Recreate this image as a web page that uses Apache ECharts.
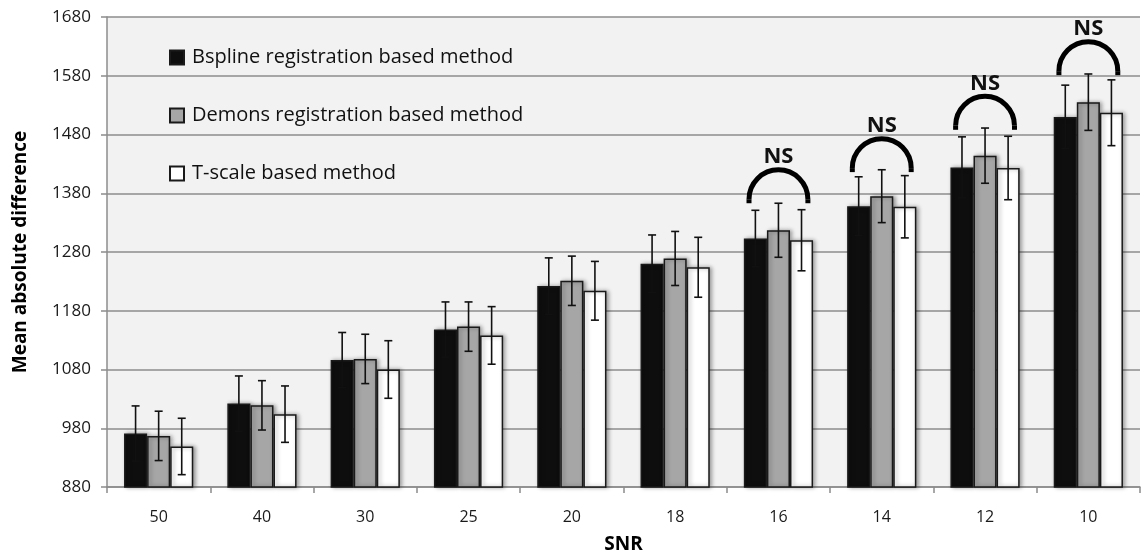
<!DOCTYPE html>
<html>
<head>
<meta charset="utf-8">
<script src="https://cdn.jsdelivr.net/npm/echarts@6/dist/echarts.min.js"></script>
<style>
	html, body { margin: 0; padding: 0; background: #fff; }
	#chart { width: 1143px; height: 557px; }
</style>
</head>
<body>
<div id="chart"></div>
<script>
const categories = ["50", "40", "30", "25", "20", "18", "16", "14", "12", "10"];
const yTicks = { min: 880, max: 1680, step: 100 };

const bsplineMean = [971, 1022, 1096, 1148, 1222, 1260, 1303, 1358, 1424, 1510];
const bsplineErr = [47, 47, 47, 47, 48, 49, 48, 50, 52, 54];
const demonsMean = [967, 1019, 1098, 1153, 1231, 1269, 1317, 1375, 1444, 1535];
const demonsErr = [42, 42, 42, 42, 42, 46, 46, 45, 47, 48];
const tscaleMean = [949, 1004, 1080, 1138, 1214, 1254, 1300, 1357, 1423, 1517];
const tscaleErr = [48, 48, 49, 49, 50, 51, 52, 53, 54, 56];

const nsCategories = ["16", "14", "12", "10"];
const nsLevel = [1363, 1416, 1488, 1581];

const seriesNames = [
	"Bspline registration based method",
	"Demons registration based method",
	"T-scale based method",
];
const barColors = ["#0e0e0e", "#a6a6a6", "#ffffff"];
const means = [bsplineMean, demonsMean, tscaleMean];
const errs = [bsplineErr, demonsErr, tscaleErr];

const FONT = "Open Sans";
const CAT_GAP = 0.33;

const chart = echarts.init(document.getElementById("chart"), null, { renderer: "canvas" });

// error bars, shifted to sit on the k-th bar of each group
const errorSeries = (k) => ({
	type             : "custom",
	coordinateSystem : "cartesian2d",
	z                : 5,
	silent           : true,
	encode           : { x: 0, y: [1, 2] },
	data             : categories.map((c, i) => [i, means[k][i] - errs[k][i], means[k][i] + errs[k][i]]),
	renderItem       : (params, api) => {
		const band = api.size([1, 0])[0];
		const barW = band * (1 - CAT_GAP) / 3;
		const lo = api.coord([api.value(0), api.value(1)]);
		const hi = api.coord([api.value(0), api.value(2)]);
		const x = lo[0] + (k - 1) * barW;
		const cap = 4;
		const style = { stroke: "#111", lineWidth: 1.6 };
		return {
			type     : "group",
			children : [
				{ type: "line", shape: { x1: x, y1: lo[1], x2: x, y2: hi[1] }, style },
				{ type: "line", shape: { x1: x - cap, y1: hi[1], x2: x + cap, y2: hi[1] }, style },
				{ type: "line", shape: { x1: x - cap, y1: lo[1], x2: x + cap, y2: lo[1] }, style },
			],
		};
	},
});

const barSeries = (k) => ({
	name           : seriesNames[k],
	type           : "bar",
	data           : means[k],
	barGap         : "0%",
	barCategoryGap : (CAT_GAP * 100) + "%",
	itemStyle      : {
		color         : barColors[k],
		borderColor   : "#1a1a1a",
		borderWidth   : 1.5,
		shadowBlur    : 4,
		shadowOffsetX : 2,
		shadowOffsetY : 0,
		shadowColor   : "rgba(0,0,0,0.35)",
	},
	emphasis: { disabled: true },
});

const nsSeries = {
	type             : "custom",
	coordinateSystem : "cartesian2d",
	z                : 6,
	silent           : true,
	encode           : { x: 0, y: 1 },
	data             : nsCategories.map((c, i) => [categories.indexOf(c), nsLevel[i]]),
	renderItem       : (params, api) => {
		const band = api.size([1, 0])[0];
		const p = api.coord([api.value(0), api.value(1)]);
		const r = band * 0.285;
		const leg = 4;
		const cy = p[1] - leg;
		const style = { stroke: "#000", lineWidth: 5, fill: null };
		return {
			type     : "group",
			children : [
				{ type: "arc", shape: { cx: p[0], cy, r, startAngle: Math.PI, endAngle: Math.PI * 2, clockwise: true }, style },
				{ type: "line", shape: { x1: p[0] - r, y1: cy, x2: p[0] - r, y2: p[1] }, style },
				{ type: "line", shape: { x1: p[0] + r, y1: cy, x2: p[0] + r, y2: p[1] }, style },
				{
					type  : "text",
					style : {
						text          : "NS",
						x             : p[0],
						y             : cy - r - 2,
						align         : "center",
						verticalAlign : "bottom",
						fontFamily    : FONT,
						fontWeight    : "bold",
						fontSize      : 22,
						fill          : "#111",
					},
				},
			],
		};
	},
};

chart.setOption({
	animation : false,
	grid      : {
		left            : 107,
		right           : 3,
		top             : 17,
		bottom          : 70,
		outerBoundsMode : "none",
		show            : true,
		backgroundColor : "#f2f2f2",
		borderWidth     : 0,
	},
	legend: {
		orient     : "vertical",
		left       : 164,
		top        : 39,
		itemWidth  : 14,
		itemHeight : 14,
		itemGap    : 31,
		icon       : "rect",
		data       : seriesNames,
		textStyle  : {
			fontFamily : FONT,
			fontSize   : 20,
			lineHeight : 27,
			color      : "#111",
			padding    : [0, 0, 0, 3],
		},
	},
	xAxis: {
		type         : "category",
		data         : categories,
		name         : "SNR",
		nameLocation : "middle",
		nameGap      : 48,
		nameTextStyle: {
			fontFamily : FONT,
			fontWeight : "bold",
			fontSize   : 19,
			color      : "#000",
		},
		axisLine  : { lineStyle: { color: "#8c8c8c", width: 1.5 } },
		axisTick  : { show: true, length: 6, lineStyle: { color: "#8c8c8c", width: 1.5 } },
		axisLabel : { fontFamily: FONT, fontSize: 16, color: "#1a1a1a", margin: 22 },
	},
	yAxis: {
		type         : "value",
		min          : yTicks.min,
		max          : yTicks.max,
		interval     : yTicks.step,
		name         : "Mean absolute difference",
		nameLocation : "middle",
		nameGap      : 77,
		nameTextStyle: {
			fontFamily : FONT,
			fontWeight : "bold",
			fontSize   : 19,
			color      : "#000",
		},
		axisLine  : { show: true, lineStyle: { color: "#8c8c8c", width: 1.5 } },
		axisTick  : { show: true, length: 6, lineStyle: { color: "#8c8c8c", width: 1.5 } },
		axisLabel : { fontFamily: FONT, fontSize: 17, color: "#1a1a1a", margin: 16, formatter: (v) => String(v) },
		splitLine : { lineStyle: { color: "#8c8c8c", width: 1.5 } },
	},
	series: [
		barSeries(0),
		barSeries(1),
		barSeries(2),
		errorSeries(0),
		errorSeries(1),
		errorSeries(2),
		nsSeries,
	],
});
</script>
</body>
</html>
